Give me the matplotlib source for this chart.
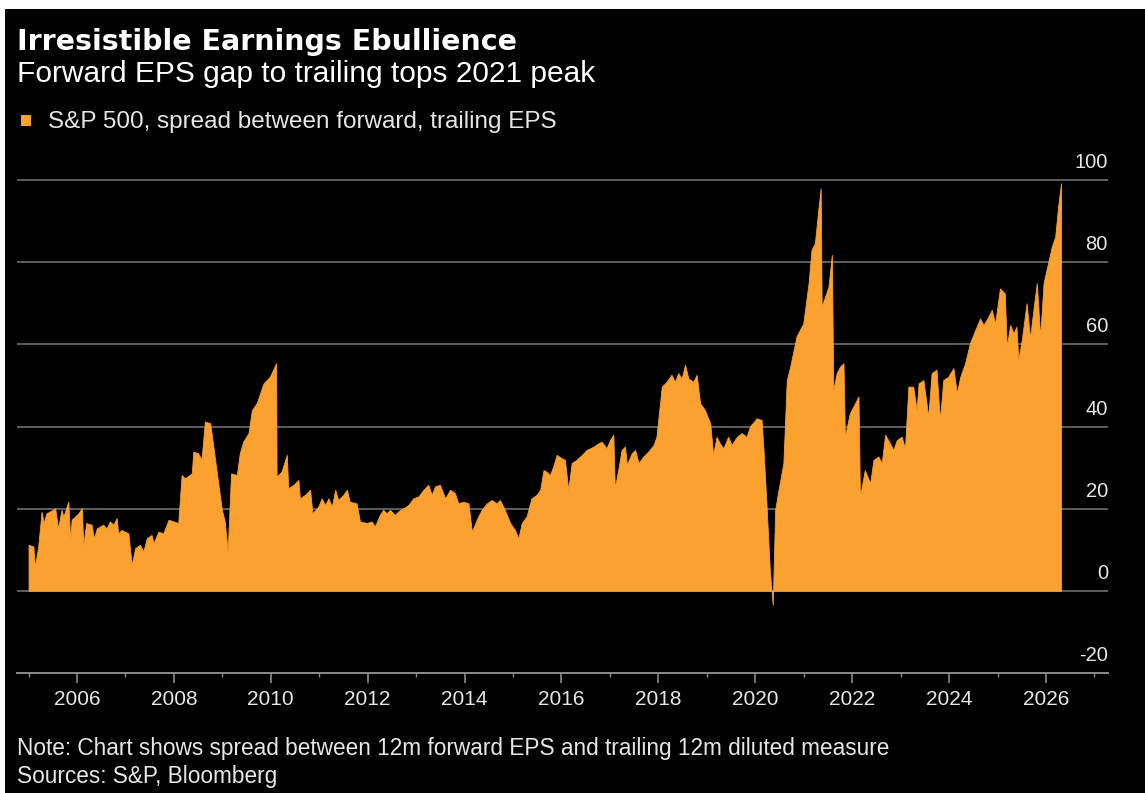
import matplotlib
matplotlib.use("Agg")
import matplotlib.pyplot as plt
from matplotlib.patches import Rectangle
from matplotlib.ticker import MultipleLocator, FixedLocator

# ---- data (decimal years, spread in index points) ----
years = [
    2005.00, 2005.10, 2005.13, 2005.20, 2005.27, 2005.31, 2005.37, 2005.44, 2005.55, 2005.61,
    2005.68, 2005.72, 2005.82, 2005.86, 2005.89, 2006.03, 2006.10, 2006.13, 2006.19, 2006.30,
    2006.35, 2006.41, 2006.54, 2006.61, 2006.68, 2006.75, 2006.82, 2006.85, 2006.92, 2007.06,
    2007.13, 2007.20, 2007.30, 2007.37, 2007.44, 2007.54, 2007.58, 2007.68, 2007.78, 2007.89,
    2007.99, 2008.09, 2008.16, 2008.23, 2008.37, 2008.40, 2008.50, 2008.57, 2008.64, 2008.75,
    2008.99, 2009.05, 2009.11, 2009.18, 2009.30, 2009.36, 2009.43, 2009.54, 2009.61, 2009.71,
    2009.85, 2009.98, 2010.11, 2010.12, 2010.22, 2010.33, 2010.36, 2010.47, 2010.57, 2010.60,
    2010.71, 2010.81, 2010.86, 2010.98, 2011.05, 2011.12, 2011.19, 2011.26, 2011.33, 2011.39,
    2011.50, 2011.57, 2011.63, 2011.77, 2011.84, 2011.98, 2012.08, 2012.15, 2012.25, 2012.32,
    2012.39, 2012.46, 2012.56, 2012.67,
    2012.74, 2012.84, 2012.94, 2013.05, 2013.15, 2013.25, 2013.32, 2013.39, 2013.49, 2013.60,
    2013.70, 2013.80, 2013.87, 2013.97, 2014.08, 2014.15, 2014.25, 2014.35, 2014.46, 2014.56,
    2014.66, 2014.73, 2014.83, 2014.94, 2015.04, 2015.11, 2015.18, 2015.28, 2015.38, 2015.49,
    2015.56, 2015.63, 2015.69, 2015.76, 2015.83, 2015.90, 2016.00, 2016.07, 2016.14, 2016.21,
    2016.31, 2016.42, 2016.52, 2016.66, 2016.76, 2016.83, 2016.93, 2017.00, 2017.07, 2017.10,
    2017.17, 2017.24, 2017.31, 2017.35, 2017.45, 2017.52, 2017.59, 2017.69, 2017.79, 2017.90,
    2017.96, 2018.07, 2018.17, 2018.27, 2018.34, 2018.41, 2018.48, 2018.55, 2018.62, 2018.72,
    2018.79, 2018.86, 2018.96, 2019.07, 2019.13, 2019.20, 2019.27, 2019.34, 2019.44, 2019.51,
    2019.62, 2019.72, 2019.82, 2019.89,
    2020.03, 2020.13, 2020.17, 2020.23, 2020.30, 2020.36, 2020.41, 2020.48, 2020.58, 2020.65,
    2020.72, 2020.85, 2020.99, 2021.10, 2021.16, 2021.23, 2021.30, 2021.35, 2021.37, 2021.44,
    2021.51, 2021.58, 2021.61, 2021.68, 2021.75, 2021.82, 2021.85, 2021.95, 2022.06, 2022.13,
    2022.16, 2022.26, 2022.37, 2022.44, 2022.54, 2022.61, 2022.68, 2022.78, 2022.85, 2022.92,
    2023.02, 2023.09, 2023.16, 2023.26, 2023.33, 2023.37, 2023.47, 2023.57, 2023.64, 2023.74,
    2023.81, 2023.88, 2023.98, 2024.09, 2024.16, 2024.23, 2024.33, 2024.43, 2024.54, 2024.64,
    2024.71, 2024.81, 2024.88, 2024.95, 2025.05, 2025.15, 2025.19, 2025.26, 2025.33, 2025.39,
    2025.43, 2025.50, 2025.60, 2025.67, 2025.74, 2025.81, 2025.88, 2025.95, 2026.01, 2026.12,
    2026.19, 2026.25, 2026.31,
]
spread = [
    11.2, 10.8, 5.9, 10.8, 19.3, 16.5, 18.9, 19.3, 20.1, 15.2,
    19.7, 18.1, 21.7, 12.4, 17.3, 18.9, 20.1, 11.2, 16.5, 16.1,
    12.8, 15.2, 16.1, 15.2, 16.9, 16.1, 17.7, 14.0, 14.8, 14.0,
    6.3, 10.4, 11.2, 9.6, 12.8, 13.6, 11.6, 14.4, 14.0, 17.3,
    16.9, 16.5, 28.2, 27.4, 28.6, 33.9, 33.5, 31.9, 41.2, 40.8,
    19.7, 16.9, 9.6, 28.6, 28.2, 33.5, 36.3, 38.4, 44.0, 45.7,
    50.5, 52.1, 55.4, 27.8, 29.0, 33.1, 25.0, 25.8, 27.0, 22.5,
    23.4, 24.6, 18.9, 20.5, 22.5, 20.9, 22.5, 20.5, 24.6, 22.1,
    23.4, 24.6, 21.7, 21.3, 16.9, 16.5, 16.9, 15.7, 18.5, 19.7,
    18.9, 19.7, 18.5, 19.7,
    20.1, 20.9, 22.5, 23.0, 24.6, 25.8, 23.4, 25.4, 25.8, 22.5,
    24.6, 23.8, 21.3, 21.7, 21.3, 14.4, 17.3, 19.7, 21.3, 22.1,
    21.3, 22.1, 19.7, 16.5, 14.8, 12.8, 16.5, 18.1, 22.5, 23.4,
    24.6, 29.4, 29.0, 28.2, 30.3, 33.1, 32.3, 31.9, 24.6, 31.1,
    31.9, 33.1, 34.3, 35.1, 35.9, 36.3, 34.7, 36.7, 38.0, 25.0,
    29.4, 34.3, 35.1, 30.7, 33.5, 34.3, 31.1, 32.7, 33.9, 35.5,
    37.5, 49.7, 50.9, 52.6, 50.9, 53.0, 51.7, 55.0, 51.7, 50.9,
    52.6, 45.7, 44.0, 40.8, 33.1, 37.5, 35.9, 34.7, 37.5, 35.5,
    37.5, 38.4, 37.5, 40.0,
    42.0, 41.6, 34.3, 21.3, 5.1, -3.4, 19.7, 24.6, 31.1, 51.3,
    54.6, 61.9, 65.1, 74.9, 83.0, 84.6, 92.7, 98.0, 69.2, 71.6,
    74.0, 81.8, 48.9, 53.0, 54.6, 55.4, 37.5, 43.2, 45.7, 47.3,
    22.9, 29.4, 26.2, 31.9, 32.7, 31.1, 38.0, 35.9, 34.3, 36.7,
    37.5, 34.7, 49.7, 49.7, 44.0, 50.5, 51.3, 42.4, 53.0, 53.8,
    41.6, 51.3, 52.1, 54.2, 48.1, 52.1, 55.4, 60.3, 63.5, 66.3,
    64.7, 66.7, 68.4, 65.1, 73.6, 72.4, 59.4, 64.7, 62.7, 64.3,
    56.2, 61.1, 70.0, 61.5, 68.4, 74.9, 61.9, 74.9, 78.1, 83.8,
    86.2, 93.5, 99.2,
]
y_ticks = [-20, 0, 20, 40, 60, 80, 100]
x_tick_years = list(range(2006, 2027, 2))

title = "Irresistible Earnings Ebullience"
subtitle = "Forward EPS gap to trailing tops 2021 peak"
legend_label = "S&P 500, spread between forward, trailing EPS"
note = "Note: Chart shows spread between 12m forward EPS and trailing 12m diluted measure"
sources = "Sources: S&P, Bloomberg"

# ---- styling ----
W, H = 1145, 793
ORANGE = "#FAA130"
GRID = "#5e5e5e"
TXT = "#e6e6e6"
plt.rcParams["font.family"] = ["Liberation Sans", "DejaVu Sans"]

fig = plt.figure(figsize=(W / 100, H / 100), dpi=100, facecolor="white")
# black panel (thin white strip at top/left like the screenshot)
fig.patches.append(Rectangle((5 / W, 0), 1, 1 - 9 / H, transform=fig.transFigure,
                             facecolor="black", edgecolor="none", zorder=-10))

def fy(py):
    return 1 - py / H

ax_left, ax_right = 17 / W, 1108 / W
ax_bottom, ax_top = fy(673), fy(171.8)
ax = fig.add_axes([ax_left, ax_bottom, ax_right - ax_left, ax_top - ax_bottom])
ax.set_facecolor("none")
ax.set_zorder(1)

ax.fill_between(years, spread, 0, color=ORANGE, linewidth=0.6, edgecolor=ORANGE, zorder=3)

ax.set_xlim(2004.762, 2027.28)
ax.set_ylim(-20, 102)

for v in y_ticks[1:]:
    ax.axhline(v, color=GRID, linewidth=1.4, zorder=1)
for v in y_ticks:
    ax.annotate(f"{v}", xy=(1.0, v), xycoords=("axes fraction", "data"),
                xytext=(0, 12), textcoords="offset pixels",
                ha="right", va="baseline", color=TXT, fontsize=14.5)

for s in ["top", "right", "left"]:
    ax.spines[s].set_visible(False)
ax.spines["bottom"].set_color("#8a8a8a")
ax.spines["bottom"].set_linewidth(1.4)
ax.set_yticks([])
ax.xaxis.set_major_locator(FixedLocator(x_tick_years))
ax.xaxis.set_minor_locator(MultipleLocator(1))
ax.set_xticklabels([str(y) for y in x_tick_years])
ax.tick_params(axis="x", which="major", length=7.5, width=1.2, color="#8a8a8a",
               pad=5, labelsize=15, labelcolor=TXT)
ax.tick_params(axis="x", which="minor", length=3, width=1.0, color="#8a8a8a")

# ---- text ----
fig.text(17 / W, fy(50), title, fontsize=20.5, fontweight="bold", color="white",
         family=["DejaVu Sans"], va="baseline", ha="left")
fig.text(17 / W, fy(82), subtitle, fontsize=21.5, color="white", va="baseline", ha="left")
fig.patches.append(Rectangle((21 / W, fy(126)), 10 / W, 11 / H, transform=fig.transFigure,
                             facecolor=ORANGE, edgecolor="none", zorder=2))
fig.text(48 / W, fy(128), legend_label, fontsize=17.5, color=TXT, va="baseline", ha="left")
fig.text(17 / W, fy(755), note, fontsize=16.3, color=TXT, va="baseline", ha="left")
fig.text(17 / W, fy(783), sources, fontsize=16.3, color=TXT, va="baseline", ha="left")

fig.savefig("out.png", dpi=100, facecolor=fig.get_facecolor())
